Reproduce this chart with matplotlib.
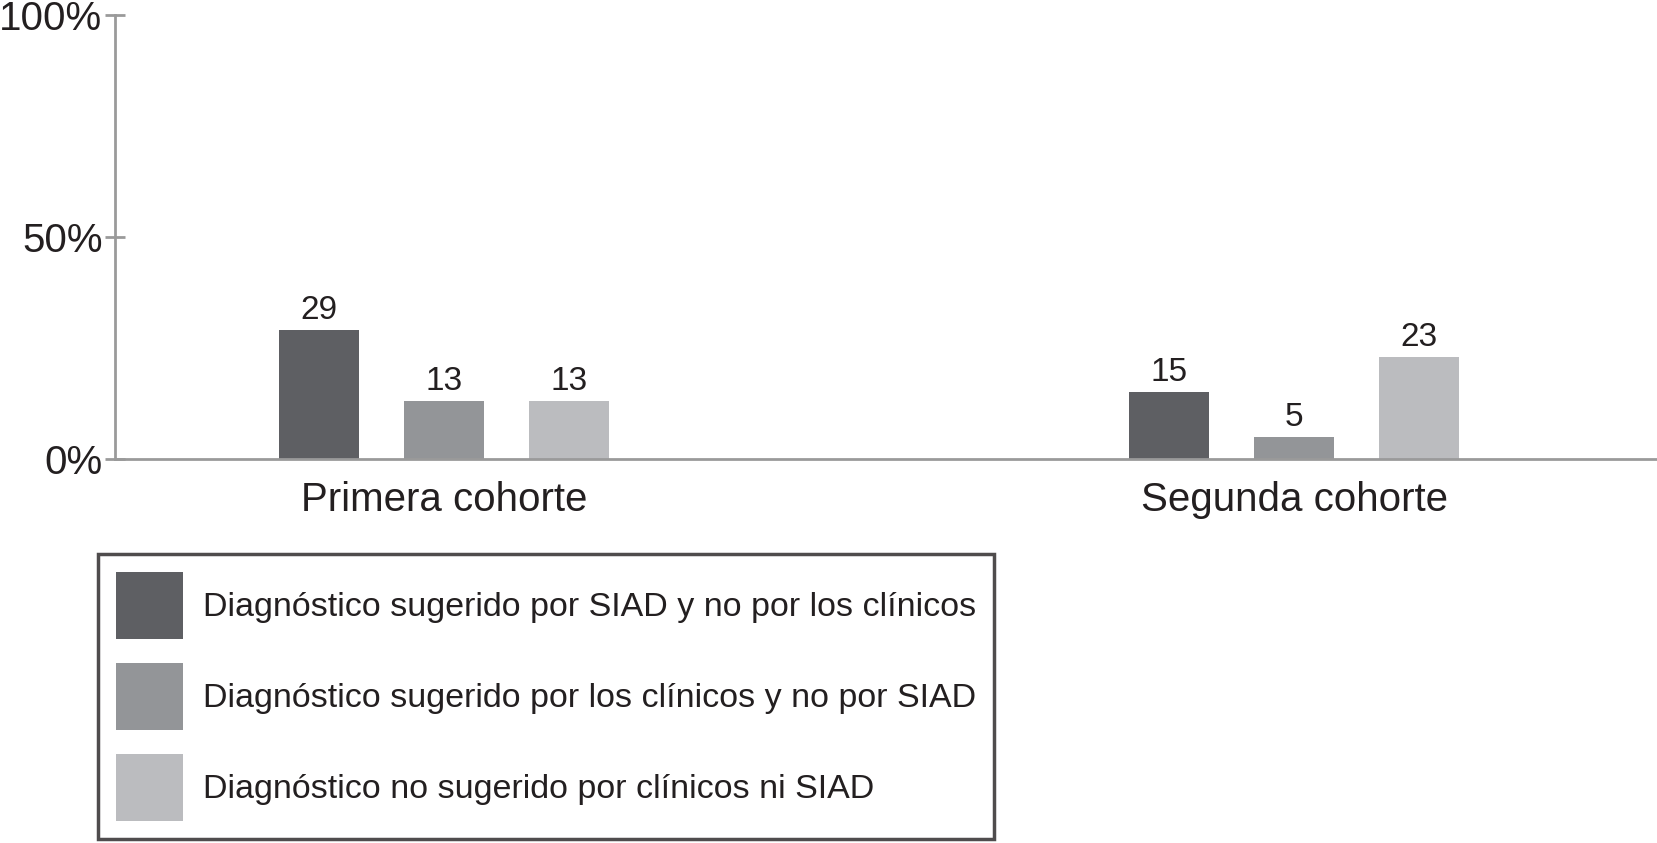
import matplotlib
matplotlib.use("Agg")
import matplotlib.pyplot as plt
from matplotlib.patches import Patch
import numpy as np

# datos
cohortes = ["Primera cohorte", "Segunda cohorte"]
series = [
    "Diagnóstico sugerido por SIAD y no por los clínicos",
    "Diagnóstico sugerido por los clínicos y no por SIAD",
    "Diagnóstico no sugerido por clínicos ni SIAD",
]
valores = [
    [29, 15],
    [13, 5],
    [13, 23],
]
colores = ["#5e5f63", "#939598", "#bbbcbf"]
yticks = [0, 50, 100]
ytick_labels = ["0%", "50%", "100%"]

plt.rcParams["font.family"] = ["Liberation Sans", "DejaVu Sans"]
txt_color = "#231f20"
axis_color = "#9a9a9a"
leg_size = 24.5

fig = plt.figure(figsize=(16.58, 8.43), dpi=100)
ax = fig.add_axes([115 / 1658, 1 - 459 / 843, 1 - 115 / 1658, (459 - 15.5) / 843])

x = np.arange(len(cohortes))
offset = 0.147
width = 0.094
for j, (nombre, vals) in enumerate(zip(series, valores)):
    bars = ax.bar(x + (j - 1) * offset, vals, width, color=colores[j], label=nombre)
    ax.bar_label(bars, labels=[str(v) for v in vals], padding=3,
                 fontsize=24, color=txt_color)

ax.set_xlim(-0.387, 1.428)
ax.set_ylim(0, 100)
ax.set_yticks(yticks)
ax.set_yticklabels(ytick_labels, fontsize=29, color=txt_color)
ax.set_xticks(x)
ax.set_xticklabels(cohortes, fontsize=29, color=txt_color)
ax.tick_params(axis="x", length=0, pad=16)
ax.tick_params(axis="y", direction="inout", length=14, width=2, color=axis_color, pad=2)

for s in ["top", "right"]:
    ax.spines[s].set_visible(False)
for s in ["left", "bottom"]:
    ax.spines[s].set_color(axis_color)
    ax.spines[s].set_linewidth(2)
ax.spines["left"].set_bounds(0, 100)

# leyenda
handles = [Patch(facecolor=c, edgecolor="none") for c in colores]
em = leg_size / 0.72
rect_h = 67 / em
leg = fig.legend(handles, series, loc="upper left",
                 bbox_to_anchor=(98 / 1658, 1 - 554 / 843),
                 borderaxespad=0, frameon=True, fancybox=False,
                 handlelength=67 / em, handleheight=(rect_h - 0.245) / 0.65,
                 labelspacing=24 / em, handletextpad=20 / em,
                 borderpad=18 / em,
                 prop={"size": leg_size})
leg.get_frame().set_edgecolor(txt_color)
leg.get_frame().set_linewidth(2.5)
for t in leg.get_texts():
    t.set_color(txt_color)

fig.savefig("out.png", dpi=100)
